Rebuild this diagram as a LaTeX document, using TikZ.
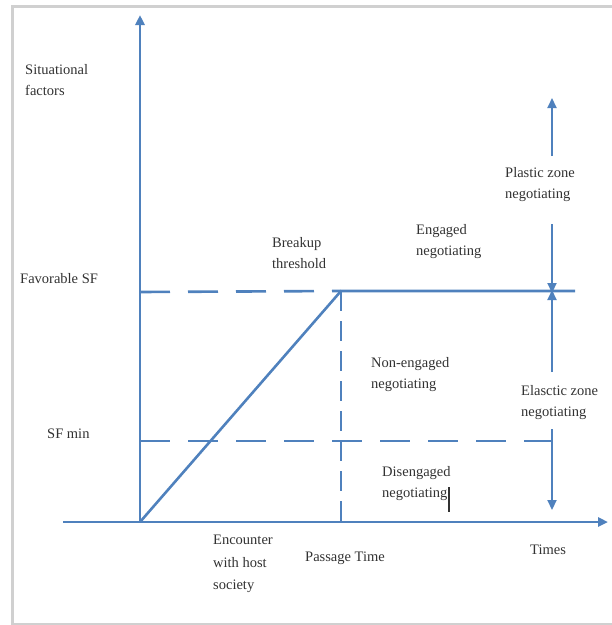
\documentclass[tikz,border=0pt]{standalone}
\usepackage{fontspec}
\setmainfont{Liberation Serif}
\usetikzlibrary{arrows.meta}
\definecolor{axisblue}{RGB}{79,129,189}
\definecolor{txtgray}{RGB}{50,50,50}
\definecolor{framegray}{RGB}{208,208,208}
\begin{document}
\begin{tikzpicture}[x=1pt,y=-1pt,
  lbl/.style={anchor=north west, inner sep=0pt, align=left, text=txtgray,
    font=\fontsize{14.5}{21}\selectfont},
  axisline/.style={draw=axisblue, line width=2.6pt},
  zonearrow/.style={draw=axisblue, line width=2.2pt},
  tipped/.style={-{Triangle[length=10pt,width=9pt]}},
  dashh/.style={axisline, dash pattern=on 30pt off 18pt},
  dashv/.style={axisline, dash pattern=on 20pt off 10pt}]
\useasboundingbox (0,0) rectangle (612,625);
% frame
\draw[framegray, line width=3pt] (612,6) -- (12,6) -- (12,624) -- (612,624);

% coordinates
\coordinate (origin) at (140,522);
\coordinate (ytop) at (140,15);
\coordinate (xstart) at (63,522);
\coordinate (xend) at (608,522);
\coordinate (fav0) at (140,292);
\coordinate (brk) at (341,291);
\coordinate (brkfoot) at (341,522);
\coordinate (plateau) at (575,291);
\coordinate (min0) at (140,441);
\coordinate (min1) at (552,441);
\coordinate (plUpS) at (552,156);
\coordinate (plUpE) at (552,98);
\coordinate (plDnS) at (552,224);
\coordinate (plDnE) at (552,293);
\coordinate (elUpS) at (552,372);
\coordinate (elUpE) at (552,290);
\coordinate (elDnS) at (552,429);
\coordinate (elDnE) at (552,510);
\coordinate (curA) at (449,487);
\coordinate (curB) at (449,512);

% axes
\draw[axisline, tipped] (origin) -- (ytop);
\draw[axisline, tipped] (xstart) -- (xend);

% dashed guides
\draw[dashh] (fav0) -- (brk);
\draw[dashh] (min0) -- (min1);
\draw[dashv] (brk) -- (brkfoot);

% curve
\draw[axisline, line join=round] (origin) -- (brk) -- (plateau);

% zone arrows
\draw[zonearrow, tipped] (plUpS) -- (plUpE);
\draw[zonearrow, tipped] (plDnS) -- (plDnE);
\draw[zonearrow, tipped] (elUpS) -- (elUpE);
\draw[zonearrow, tipped] (elDnS) -- (elDnE);

% cursor mark
\draw[txtgray, line width=1.6pt] (curA) -- (curB);

% labels
\node[lbl] (sitf) at (25,64) {Situational\\factors};
\node[lbl] (favsf) at (20,273) {Favorable SF};
\node[lbl] (sfmin) at (47,429) {SF min};
\node[lbl] (breakup) at (272,237) {Breakup\\threshold};
\node[lbl] (engaged) at (416,224) {Engaged\\negotiating};
\node[lbl] (plastic) at (505,167) {Plastic zone\\negotiating};
\node[lbl] (nonengaged) at (371,357) {Non-engaged\\negotiating};
\node[lbl] (elastic) at (521,385) {Elasctic zone\\negotiating};
\node[lbl] (disengaged) at (382,466) {Disengaged\\negotiating};
\node[lbl, font=\fontsize{14.5}{22.5}\selectfont] (encounter) at (213,535) {Encounter\\with host\\society};
\node[lbl] (passage) at (305,552) {Passage Time};
\node[lbl] (times) at (530,545) {Times};
\end{tikzpicture}
\end{document}
